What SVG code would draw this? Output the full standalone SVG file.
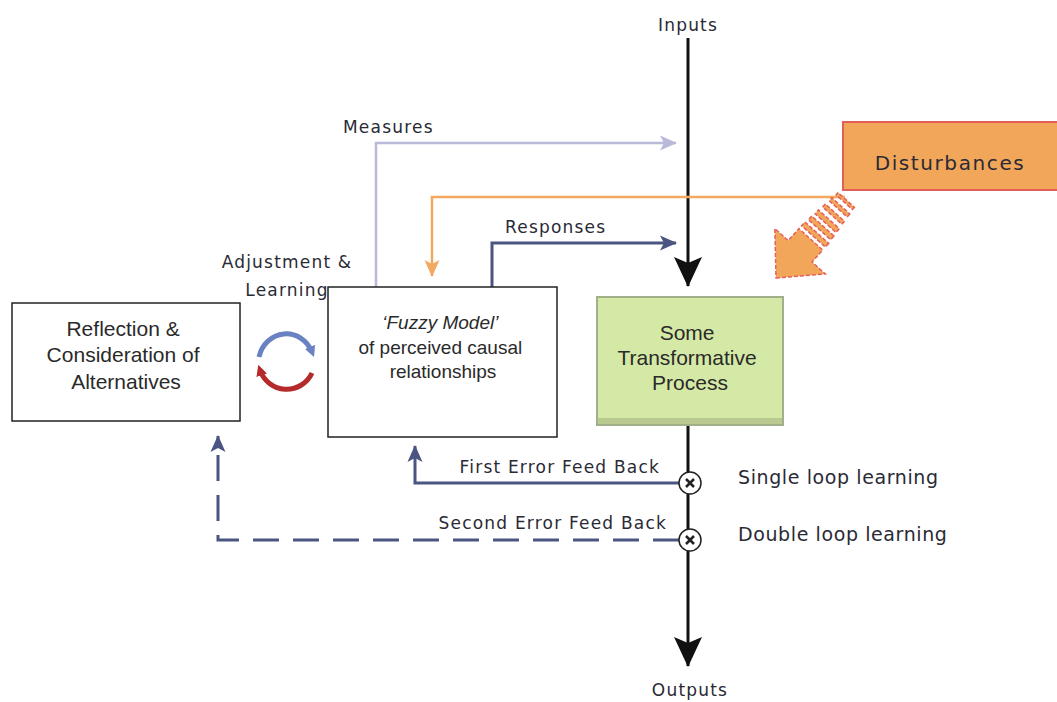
<svg xmlns="http://www.w3.org/2000/svg" width="1057" height="702" viewBox="0 0 1057 702">
  <defs>
    <style>
      .hand { font-family: "Comic Sans MS", "DejaVu Sans", sans-serif; fill: #2a2a35; letter-spacing: 1.2px; }
      .box { font-family: "Liberation Sans", Arial, sans-serif; fill: #2a2a2a; text-anchor: middle; }
      .flow { fill: none; stroke-linejoin: miter; }
    </style>
    <marker id="ahBlack" viewBox="0 0 30 30" refX="29" refY="15" markerWidth="30" markerHeight="30" markerUnits="userSpaceOnUse" orient="auto">
      <path d="M0,1 L30,15 L0,29 L6,15 Z" fill="#111"/>
    </marker>
    <marker id="ahSlate" viewBox="0 0 17 16" refX="16" refY="8" markerWidth="17" markerHeight="16" markerUnits="userSpaceOnUse" orient="auto">
      <path d="M0,0.5 L17,8 L0,15.5 L4,8 Z" fill="#4a5582"/>
    </marker>
    <marker id="ahLav" viewBox="0 0 17 16" refX="16" refY="8" markerWidth="17" markerHeight="16" markerUnits="userSpaceOnUse" orient="auto">
      <path d="M0,0.5 L17,8 L0,15.5 L4,8 Z" fill="#b9b9d9"/>
    </marker>
    <marker id="ahOrange" viewBox="0 0 17 16" refX="16" refY="8" markerWidth="17" markerHeight="16" markerUnits="userSpaceOnUse" orient="auto">
      <path d="M0,0.5 L17,8 L0,15.5 L4,8 Z" fill="#f2a85e"/>
    </marker>
    <marker id="ahBlue" viewBox="0 0 10 10" refX="5" refY="5" markerWidth="11" markerHeight="11" markerUnits="userSpaceOnUse" orient="auto">
      <path d="M0,0 L10,5 L0,10 Z" fill="#6b82c2"/>
    </marker>
    <marker id="ahRed" viewBox="0 0 10 10" refX="5" refY="5" markerWidth="11" markerHeight="11" markerUnits="userSpaceOnUse" orient="auto">
      <path d="M0,0 L10,5 L0,10 Z" fill="#b52b2b"/>
    </marker>
  </defs>

  <rect width="1057" height="702" fill="#ffffff"/>

  <!-- connectors -->
  <g id="connectors">
    <!-- main flow through the process -->
    <line x1="688" y1="38" x2="688" y2="286" stroke="#111" stroke-width="3" marker-end="url(#ahBlack)"/>
    <line x1="688" y1="425" x2="688" y2="472" stroke="#111" stroke-width="3"/>
    <line x1="688" y1="494" x2="688" y2="529" stroke="#111" stroke-width="3"/>
    <line x1="688" y1="551" x2="688" y2="666" stroke="#111" stroke-width="3" marker-end="url(#ahBlack)"/>

    <!-- measures -->
    <path class="flow" d="M376,287 L376,143 L676,143" stroke="#b9b9d9" stroke-width="2.5" marker-end="url(#ahLav)"/>
    <!-- disturbance influence on the model -->
    <path class="flow" d="M845,197 L432,197 L432,276" stroke="#f2a85e" stroke-width="2.5" marker-end="url(#ahOrange)"/>
    <!-- responses -->
    <path class="flow" d="M492,287 L492,243 L676,243" stroke="#4a5582" stroke-width="3" marker-end="url(#ahSlate)"/>

    <!-- first error feedback -->
    <path class="flow" d="M679,483 L415,483 L415,446" stroke="#4a5582" stroke-width="3" marker-end="url(#ahSlate)"/>
    <!-- second error feedback -->
    <path class="flow" d="M679,540 L218,540 L218,436" stroke="#4a5582" stroke-width="3" stroke-dasharray="26,14" marker-end="url(#ahSlate)"/>

    <!-- comparators -->
    <g stroke="#222" stroke-width="1.5">
      <circle cx="690" cy="483" r="11" fill="#fff"/>
      <circle cx="690" cy="540" r="11" fill="#fff"/>
      <path d="M686,479 L694,487 M694,479 L686,487 M686,536 L694,544 M694,536 L686,544" stroke-width="2.5"/>
    </g>

    <!-- adjustment cycle -->
    <path d="M259,357 A28,30 0 0 1 312,352" fill="none" stroke="#6b82c2" stroke-width="5" marker-end="url(#ahBlue)"/>
    <path d="M312,373 A28,28 0 0 1 260,370" fill="none" stroke="#b52b2b" stroke-width="5" marker-end="url(#ahRed)"/>
  </g>

  <!-- labels on connectors -->
  <g id="labels" class="hand" font-size="17">
    <text x="688" y="31" text-anchor="middle">Inputs</text>
    <text x="690" y="696" text-anchor="middle">Outputs</text>
    <text x="343" y="133">Measures</text>
    <text x="505" y="233">Responses</text>
    <text x="287" y="268" text-anchor="middle">Adjustment &amp;</text>
    <text x="287" y="296" text-anchor="middle">Learning</text>
    <text x="660" y="473" text-anchor="end">First Error Feed Back</text>
    <text x="667" y="529" text-anchor="end">Second Error Feed Back</text>
    <text x="738" y="484" font-size="19" style="letter-spacing:0.6px">Single loop learning</text>
    <text x="738" y="541" font-size="19" style="letter-spacing:0.6px">Double loop learning</text>
  </g>

  <!-- disturbances -->
  <g id="disturbances">
    <rect x="843" y="122" width="220" height="68" fill="#f2a65a" stroke="#e2605a" stroke-width="2"/>
    <text x="950" y="170" class="hand" font-size="20" text-anchor="middle" style="letter-spacing:1.6px">Disturbances</text>
  </g>

  <!-- striped disturbance arrow -->
  <g id="disturbance-arrow" transform="translate(776,278) rotate(132)" stroke="#e2605a" stroke-width="1.5" stroke-dasharray="4,2" fill="#f2a65a">
    <path d="M0,0 L-36,-34 L-36,-16 L-52,-16 L-52,16 L-36,16 L-36,34 Z"/>
    <rect x="-61" y="-16" width="5" height="32"/>
    <rect x="-70" y="-15" width="5" height="30"/>
    <rect x="-79" y="-14" width="5" height="28"/>
    <rect x="-88" y="-13" width="4" height="26"/>
    <rect x="-97" y="-12" width="4" height="24"/>
    <rect x="-105" y="-11" width="3" height="22"/>
  </g>

  <!-- process -->
  <g id="process">
    <rect x="597" y="297" width="186" height="128" fill="#d5e9a6" stroke="#9fb08a" stroke-width="2"/>
    <rect x="598" y="418" width="184" height="6" fill="#b9c98f"/>
    <text class="box" font-size="21">
      <tspan x="690" y="340">Some</tspan>
      <tspan x="690" y="365">Transformative</tspan>
      <tspan x="690" y="390">Process</tspan>
    </text>
  </g>

  <!-- fuzzy model -->
  <g id="fuzzy-model">
    <rect x="328" y="287" width="229" height="150" fill="#fff" stroke="#222" stroke-width="1.5"/>
    <text class="box" font-size="19">
      <tspan x="443" y="329" font-style="italic">‘Fuzzy Model’</tspan>
      <tspan x="443" y="354">of perceived causal</tspan>
      <tspan x="443" y="378">relationships</tspan>
    </text>
  </g>

  <!-- reflection -->
  <g id="reflection">
    <rect x="12" y="303" width="228" height="118" fill="#fff" stroke="#222" stroke-width="1.5"/>
    <text class="box" font-size="21">
      <tspan x="126" y="336">Reflection &amp;</tspan>
      <tspan x="126" y="362">Consideration of</tspan>
      <tspan x="126" y="389">Alternatives</tspan>
    </text>
  </g>
</svg>
